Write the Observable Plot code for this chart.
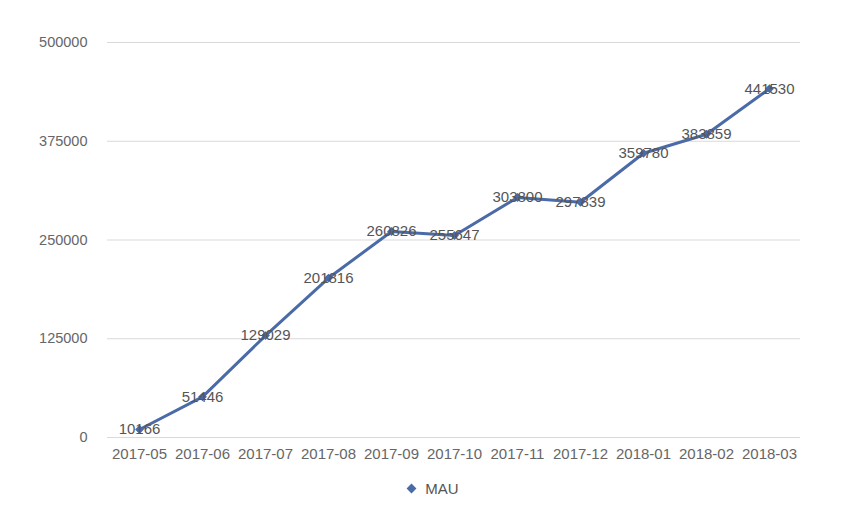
<!DOCTYPE html>
<html><head><meta charset="utf-8">
<script src="https://cdn.jsdelivr.net/npm/d3@7"></script>
<script src="https://cdn.jsdelivr.net/npm/@observablehq/plot@0.6"></script>
<style>
body{margin:0;background:#fff;font-family:"Liberation Sans",Arial,sans-serif;}
#legend{height:36px;display:flex;justify-content:center;align-items:center;font-size:15px;color:#555;padding-left:0px;}
#legend .m{display:inline-block;width:7px;height:7px;background:#4a6aa8;transform:rotate(45deg);margin-right:10px;}
</style></head>
<body><div id="chart"></div><div id="legend"><span class="m"></span><span>MAU</span></div>
<script>
const months = ["2017-05","2017-06","2017-07","2017-08","2017-09","2017-10","2017-11","2017-12","2018-01","2018-02","2018-03"];
const mau = [10166,51446,129029,201816,260826,255647,303800,297839,359780,383859,441530];
const yTicks = [0,125000,250000,375000,500000];
const data = months.map((m,i)=>({month:m, value:mau[i]}));
const chart = Plot.plot({
  width:867, height:470,
  marginLeft:107, marginRight:67, marginTop:42, marginBottom:33,
  style:{fontFamily:"Liberation Sans, Arial, sans-serif", fontSize:"15px", color:"#666", background:"#fff"},
  x:{type:"point", domain:months, padding:0.5, label:null},
  y:{domain:[0,500000], label:null},
  marks:[
    Plot.gridY(yTicks,{stroke:"#d9d9d9", strokeOpacity:1, strokeWidth:1}),
    Plot.axisY(yTicks,{tickSize:0, tickPadding:20, tickFormat:d=>String(d), fill:"#666", fontSize:14.5}),
    Plot.axisX({tickSize:0, tickPadding:11, fill:"#666", fontSize:15}),
    Plot.line(data,{x:"month", y:"value", stroke:"#4a6aa8", strokeWidth:3}),
    Plot.dot(data,{x:"month", y:"value", symbol:"diamond2", r:4, fill:"#4a6aa8", stroke:"none"}),
    Plot.text(data,{x:"month", y:"value", text:d=>String(d.value), fill:"#555", fontSize:15, dy:0})
  ]
});
document.getElementById("chart").appendChild(chart);
</script></body></html>
